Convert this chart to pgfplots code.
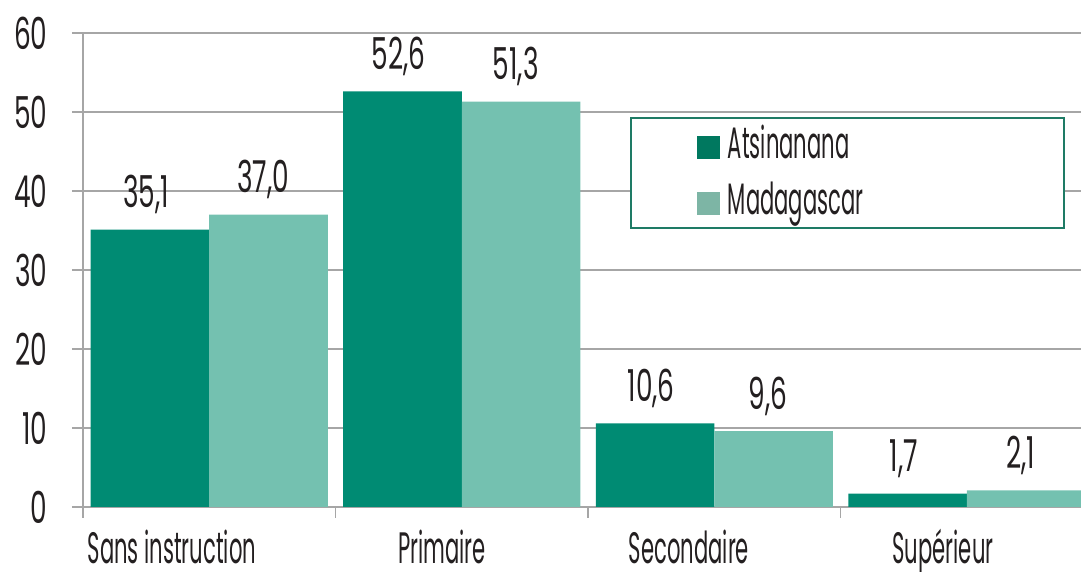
\documentclass[border=0pt]{standalone}
\usepackage{fontspec}
\setmainfont{Poppins}[FakeStretch=0.48]
\newfontfamily\numfont{Poppins}[FakeStretch=0.6]
\usepackage{pgfplots}
\pgfplotsset{compat=1.18}
\usetikzlibrary{calc}
\definecolor{dk}{HTML}{008B73}
\definecolor{lt}{HTML}{74C1B0}
\definecolor{dkleg}{HTML}{00785F}
\definecolor{ltleg}{HTML}{7DB5A5}
\definecolor{lgreen}{HTML}{1E7B65}
\definecolor{gridc}{HTML}{A6A6A6}
\definecolor{txt}{HTML}{231F20}
\newcommand{\F}{\fontsize{44}{50}\selectfont}
\newcommand{\N}{\numfont\fontsize{44}{50}\selectfont}
\begin{document}
\begin{tikzpicture}
\begin{axis}[
  scale only axis, width=998pt, height=474pt,
  xmin=-0.5, xmax=3.4525, ymin=0, ymax=60,
  ytick={0,10,...,60},
  ymajorgrids, grid style={gridc, line width=1.5pt},
  axis x line*=bottom, axis y line*=left,
  axis line style={gridc, line width=1.5pt},
  tick align=outside, major tick length=11pt,
  tick style={gridc, line width=1.5pt},
  xtick={-0.5,0.5,1.5,2.5}, xticklabels={},
  extra x ticks={-0.148,0.922,1.9,2.906},
  extra x tick labels={Sans instruction, Primaire, Secondaire, Supérieur},
  extra x tick style={tick style={draw=none}},
  /pgf/number format/assume math mode=true,
  tick label style={font=\F, text=txt},
  yticklabel style={font=\N, anchor=east, xshift=-21pt},
  xticklabel style={anchor=base, yshift=-46pt},
  legend style={at={(rel axis cs:0.548,0.8228)}, anchor=north west,
    draw=lgreen, line width=2pt, inner xsep=0pt, inner ysep=13pt,
    font=\F, text=txt, row sep=28pt,
    nodes={inner sep=0pt, text height=28pt, text depth=0pt, text width=336pt}},
  legend cell align=left,
]
\addplot[ybar, bar width=118.5pt, bar shift=-59.25pt, fill=dk, draw=none, forget plot,
  nodes near coords, point meta=explicit symbolic,
  nodes near coords style={font=\N, text=txt, anchor=base, yshift=22pt, xshift=-63pt}]
  coordinates {(0,35.1)[35,1] (1,52.6)[52,6] (2,10.6)[10,6] (3,1.7)[1,7]};
\addplot[ybar, bar width=118.5pt, bar shift=59.25pt, fill=lt, draw=none, forget plot,
  nodes near coords, point meta=explicit symbolic,
  nodes near coords style={font=\N, text=txt, anchor=base, yshift=22pt, xshift=54pt}]
  coordinates {(0,37.0)[37,0] (1,51.3)[51,3] (2,9.6)[9,6] (3,2.1)[2,1]};
\addlegendimage{legend image code/.code={\path[draw=none] (-67pt,0) -- (30pt,0); \fill[dkleg] (0pt,-13pt) rectangle (21pt,8pt);}}
\addlegendentry{Atsinanana}
\addlegendimage{legend image code/.code={\path[draw=none] (-67pt,0) -- (30pt,0); \fill[ltleg] (0pt,-13pt) rectangle (21pt,8pt);}}
\addlegendentry{Madagascar}
\end{axis}
\pgfresetboundingbox
\path[use as bounding box] ($(current axis.south west)+(-83pt,-65pt)$) rectangle ($(current axis.north east)+(0pt,33pt)$);
\end{tikzpicture}
\end{document}
